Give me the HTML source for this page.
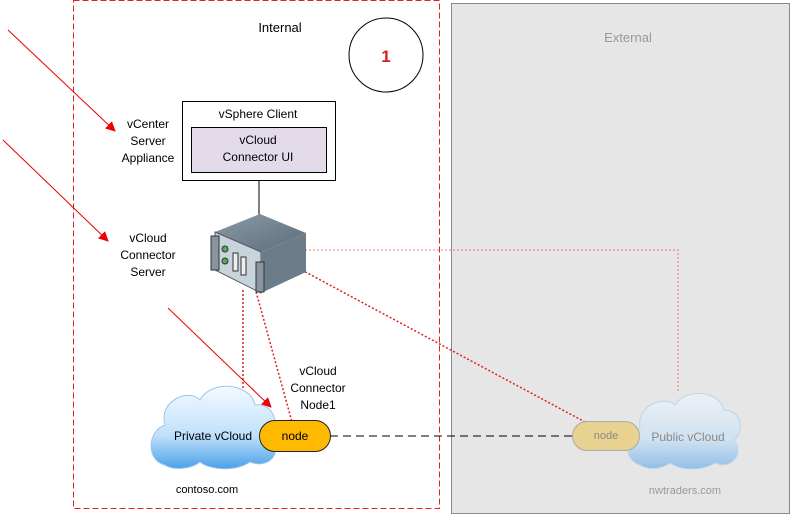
<!DOCTYPE html>
<html><head><style>
body{margin:0;width:792px;height:515px;background:#fff;overflow:hidden;font-family:"Liberation Sans",sans-serif}
</style></head><body>
<svg width="792" height="515" xmlns="http://www.w3.org/2000/svg" font-family="Liberation Sans, sans-serif">
<defs>
<marker id="ar" markerWidth="10" markerHeight="10" refX="9" refY="5" orient="auto" markerUnits="userSpaceOnUse"><path d="M0,0 L10,5 L0,10z" fill="#e00"/></marker>
<linearGradient id="cl" x1="0" y1="0" x2="0" y2="1"><stop offset="0" stop-color="#f4faff"/><stop offset="0.6" stop-color="#bfe0fb"/><stop offset="1" stop-color="#4aa0e8"/></linearGradient>
<linearGradient id="top" x1="0" y1="0" x2="1" y2="1"><stop offset="0" stop-color="#8a9aa6"/><stop offset="1" stop-color="#5c6c78"/></linearGradient>
</defs>
<rect x="451.5" y="3.5" width="338" height="510" fill="#e6e6e6" stroke="#8a8a8a"/>
<text x="628" y="42" font-size="13" fill="#999" text-anchor="middle">External</text>
<rect x="73.5" y="0.5" width="366" height="508" fill="none" stroke="#d22" stroke-dasharray="6,3"/>
<text x="280" y="32" font-size="13" text-anchor="middle">Internal</text>
<circle cx="386" cy="55" r="37" fill="#fff" stroke="#000"/>
<text x="386" y="62" font-size="17" font-weight="bold" fill="#d02020" text-anchor="middle">1</text>
<rect x="182.5" y="101.5" width="153" height="79" fill="#fff" stroke="#000"/>
<text x="258" y="118" font-size="12" text-anchor="middle">vSphere Client</text>
<rect x="191.5" y="127.5" width="135" height="45" fill="#e3dbea" stroke="#000"/>
<text x="258" y="144" font-size="12" text-anchor="middle">vCloud</text>
<text x="258" y="161" font-size="12" text-anchor="middle">Connector UI</text>
<line x1="259" y1="180" x2="259" y2="215" stroke="#000"/>
<g font-size="12" text-anchor="middle">
<text x="148" y="128">vCenter</text><text x="148" y="145">Server</text><text x="148" y="162">Appliance</text>
<text x="148" y="242">vCloud</text><text x="148" y="259">Connector</text><text x="148" y="276">Server</text>
<text x="318" y="375">vCloud</text><text x="318" y="392">Connector</text><text x="318" y="409">Node1</text>
</g>
<g stroke="#e00" stroke-width="1" marker-end="url(#ar)">
<line x1="8" y1="30" x2="115" y2="131"/>
<line x1="3" y1="140" x2="108" y2="241"/>
<line x1="168" y1="308" x2="271" y2="407"/>
</g>
<g stroke="#d22" stroke-width="1.5" stroke-dasharray="2,2" fill="none">
<path d="M243,290 V405"/><path d="M255,288 L292,422"/><path d="M298,268 L585,422"/>
</g>
<path d="M305,250 H678 V392" stroke="#e77" stroke-dasharray="2,2" fill="none"/>
<line x1="330" y1="436" x2="572" y2="436" stroke="#000" stroke-dasharray="8,5"/>
<!-- server -->
<polygon points="215,232 260,214 306,233 261,252" fill="url(#top)"/>
<polygon points="215,232 261,252 261,293 215,270" fill="#c8d4dc" stroke="#556"/>
<polygon points="261,252 306,233 306,272 261,293" fill="#6c7c88"/>
<rect x="211" y="236" width="8" height="34" fill="#8894a0" stroke="#333"/>
<rect x="256" y="262" width="8" height="30" fill="#8894a0" stroke="#333"/>
<circle cx="225" cy="249" r="3" fill="#5a5" stroke="#333"/><circle cx="225" cy="261" r="3" fill="#5a5" stroke="#333"/>
<rect x="233" y="253" width="5" height="18" fill="#eee" stroke="#333"/><rect x="241" y="257" width="5" height="18" fill="#eee" stroke="#333"/>
<!-- private cloud -->
<g>
<path d="M165,465 C145,460 148,430 165,425 C158,400 190,388 200,400 C210,380 250,382 255,405 C275,402 282,430 268,438 C285,450 270,470 250,462 C235,472 210,470 200,462 C190,470 172,470 165,465z" fill="url(#cl)" stroke="#9cc6ee"/>
<text x="213" y="440" font-size="12" text-anchor="middle">Private vCloud</text>
</g>
<rect x="259.5" y="420.5" width="71" height="31" rx="15.5" fill="#ffb900" stroke="#222"/>
<text x="295" y="440" font-size="12" text-anchor="middle">node</text>
<text x="207" y="493" font-size="11" text-anchor="middle">contoso.com</text>
<!-- public cloud -->
<g opacity="0.55">
<path d="M640,465 C622,460 625,432 640,428 C636,405 665,395 675,405 C685,388 720,390 724,410 C742,410 745,432 734,440 C745,455 730,470 715,463 C700,472 680,470 670,463 C660,470 648,470 640,465z" fill="url(#cl)" stroke="#9cc6ee"/>
</g>
<text x="688" y="441" font-size="12" fill="#888" text-anchor="middle">Public vCloud</text>
<rect x="572.5" y="421.5" width="67" height="29" rx="14.5" fill="#e8d28f" stroke="#aaa"/>
<text x="606" y="439" font-size="11" fill="#888" text-anchor="middle">node</text>
<text x="685" y="494" font-size="11" fill="#999" text-anchor="middle">nwtraders.com</text>
</svg>
</body></html>
